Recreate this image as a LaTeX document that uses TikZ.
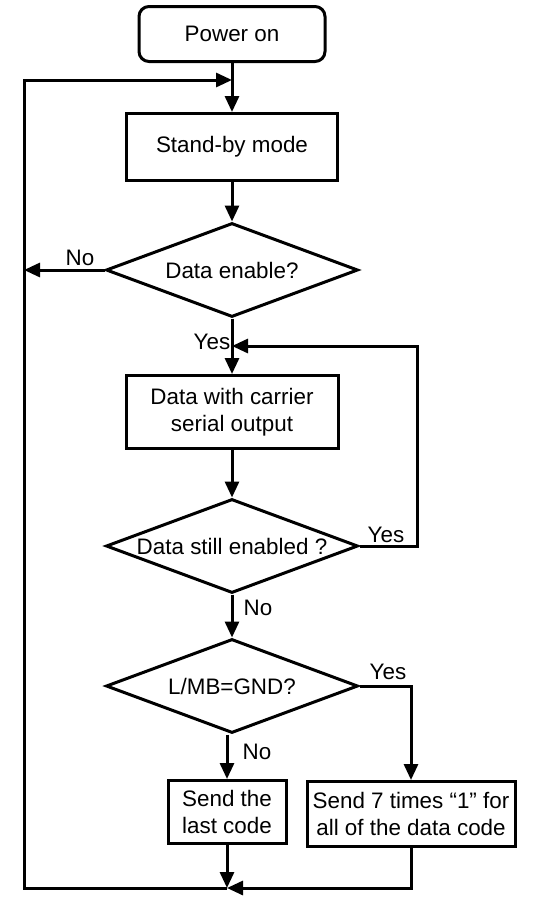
\documentclass[tikz,border=0pt]{standalone}
\usepackage{fontspec}
\setmainfont{Liberation Sans}
\newcommand*{\chartfont}{\fontsize{11.2}{13.5}\selectfont}
\usetikzlibrary{arrows.meta}
\usetikzlibrary{shapes.geometric}
\tikzstyle{base}=[line width=1.5pt, font=\chartfont]
\tikzstyle{startbox}=[draw, rounded corners=5pt, minimum width=93pt, minimum height=27.5pt, inner sep=2pt]
\tikzstyle{box}=[draw, align=center, inner sep=2pt]
\tikzstyle{decision}=[draw, diamond, aspect=2.7, inner sep=0pt, minimum width=126pt, minimum height=47pt]
\tikzstyle{flow}=[-{Triangle[length=8pt,width=7pt]}]
\tikzstyle{lbl}=[inner sep=0pt]

\begin{document}
\begin{tikzpicture}[base, x=0.5pt, y=-0.5pt]
    \path [use as bounding box] (0,0) rectangle (537,905);
    % main column
    \node [startbox] (pwr) at (232,34) {Power on};
    \node [box, minimum width=105.5pt, minimum height=33.5pt] (standby) at (232,147) {Stand-by mode};
    \node [decision] (en) at (232,270) {Data enable?};
    \node [box, minimum width=106pt, minimum height=36.5pt] (out) at (232,412) {Data with carrier\\serial output};
    \node [decision] (still) at (232,546) {Data still enabled ?};
    \node [decision] (gnd) at (232,686) {L/MB=GND?};
    \node [box, minimum width=59pt, minimum height=31.5pt] (last) at (227,812) {Send the\\last code};
    \node [box, minimum width=104pt, minimum height=32.5pt] (seven) at (411,814) {Send 7 times “1” for\\all of the data code};
    % junctions
    \coordinate (top) at (232,80);
    \coordinate (loop) at (232,346);
    \coordinate (bot) at (227,888);
    \coordinate (left) at (24,270);
    % labels
    \node [lbl] (no1) at (80,258) {No};
    \node [lbl] (yes1) at (212,342) {Yes};
    \node [lbl] (yes2) at (386,535) {Yes};
    \node [lbl] (no2) at (258,608) {No};
    \node [lbl] (yes3) at (388,672) {Yes};
    \node [lbl] (no3) at (257,752) {No};
    % connectors
    \draw [flow] (pwr) -- (standby);
    \draw [flow] (standby) -- (en);
    \draw [flow] (en.west) -- (left);
    \draw [flow] (en) -- (out);
    \draw [flow] (out) -- (still);
    \draw [flow] (still.east) -- (417,546) -- (417,346) -- (loop);
    \draw [flow] (still) -- (gnd);
    \draw [flow] (gnd.south -| last.north) -- (last);
    \draw [flow] (gnd.east) -| (seven.north);
    \draw [flow] (last) -- (bot);
    \draw [flow] (seven.south) |- (bot);
    \draw [flow] (bot) -- (24,888) -- (24,80) -- (top);
\end{tikzpicture}
\end{document}
